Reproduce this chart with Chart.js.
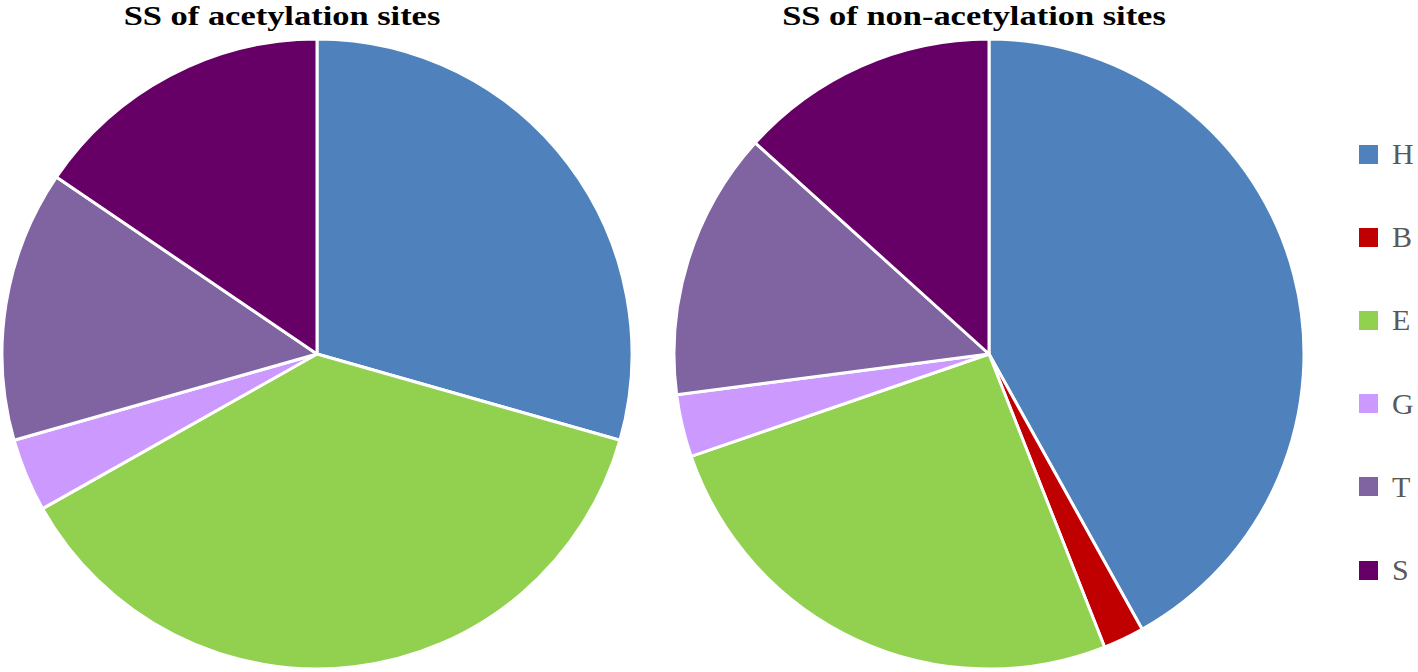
<!DOCTYPE html>
<html>
<head>
<meta charset="utf-8">
<script src="https://cdn.jsdelivr.net/npm/chart.js@4.4.1/dist/chart.umd.min.js"></script>
<style>
  body { margin: 0; background: #fff; width: 1418px; height: 672px; overflow: hidden; position: relative; }
  canvas { position: absolute; }
  .title { position: absolute; top: 2px; font: bold 28px "Liberation Serif", serif; line-height: 28px; color: #000; white-space: nowrap; transform: translateX(-50%) scaleX(1.23); }
  #legend { position: absolute; left: 1359px; top: 0; }
  .item { position: absolute; left: 0; height: 30px; display: flex; align-items: center; font: 30px "Liberation Serif", serif; line-height: 30px; color: #595959; }
  .box { width: 19px; height: 19px; margin-right: 14px; }
</style>
</head>
<body>
<div class="title" style="left:282px">SS of acetylation sites</div>
<div class="title" style="left:974px">SS of non-acetylation sites</div>
<canvas id="left" width="634" height="634" style="left:0px; top:37px"></canvas>
<canvas id="right" width="634" height="634" style="left:672px; top:37px"></canvas>
<div id="legend"></div>
<script>
// secondary structure classes
const labels = ['H', 'B', 'E', 'G', 'T', 'S'];
const colors = ['#4F81BD', '#C00000', '#92D050', '#CC99FF', '#8064A2', '#660066'];

// percentages
const acetylation = [29.4, 0, 37.4, 3.75, 13.9, 15.5];
const nonAcetylation = [41.9, 2.1, 25.7, 3.2, 13.75, 13.3];

function makePie(id, values) {
	return new Chart(document.getElementById(id).getContext('2d'), {
		type: 'pie',
		data: {
			labels: labels,
			datasets: [{
				data: values,
				backgroundColor: colors,
				borderColor: '#ffffff',
				borderWidth: 3,
				hoverOffset: 0
			}]
		},
		options: {
			responsive: false,
			animation: false,
			radius: 315,
			plugins: {
				legend: { display: false },
				tooltip: { enabled: false }
			}
		}
	});
}

makePie('left', acetylation);
makePie('right', nonAcetylation);

// legend on the right
const legend = document.getElementById('legend');
labels.forEach((lab, i) => {
	const row = document.createElement('div');
	row.className = 'item';
	row.style.top = (154 + i * 83.2 - 15) + 'px';
	const box = document.createElement('div');
	box.className = 'box';
	box.style.background = colors[i];
	row.appendChild(box);
	row.appendChild(document.createTextNode(lab));
	legend.appendChild(row);
});
</script>
</body>
</html>
